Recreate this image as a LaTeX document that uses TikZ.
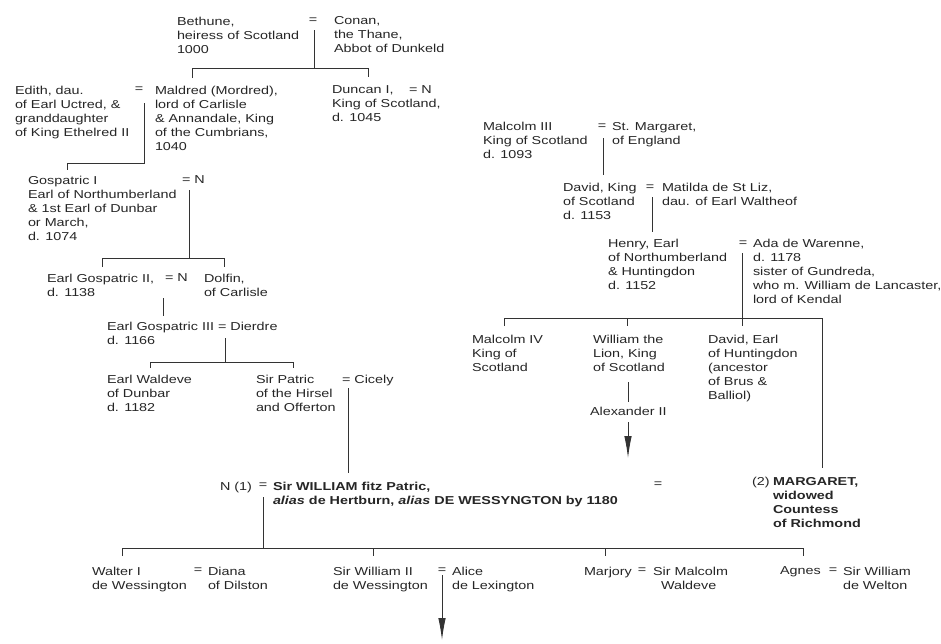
\documentclass[tikz,border=0pt]{standalone}
\usepackage{fontspec}
\setmainfont{Liberation Sans}[FakeStretch=1.25]
\usetikzlibrary{arrows.meta}
\begin{document}
\begin{tikzpicture}[x=1pt,y=-1pt,
  every node/.style={inner sep=0pt, outer sep=0pt, text=black!85},
  person/.style={anchor=north west, align=left, font=\fontsize{11.5}{14}\selectfont},
  eqs/.style={anchor=center, font=\fontsize{11.5}{14}\selectfont},
  line/.style={draw=black!80, line width=0.9pt},
  descarrow/.style={line, -{Latex[length=22pt,width=7.5pt]}}
]
\useasboundingbox (0,0) rectangle (941,643);

% --- generation 1
\node[person] (bethune) at (177,17) {Bethune,\\heiress of Scotland\\1000};
\node[eqs] (eq1) at (313,21) {=};
\node[person] (conan) at (334,16) {Conan,\\the Thane,\\Abbot of Dunkeld};
\coordinate (m1a) at (314,30);
\coordinate (m1b) at (314,68);
\coordinate (c1l) at (192,78);
\coordinate (c1r) at (368,68);
\coordinate (c1rd) at (368,77);
\draw[line] (m1a) -- (m1b);
\draw[line] (c1l) |- (c1r) -- (c1rd);

% --- generation 2
\node[person] (edith) at (15,86) {Edith, dau.\\of Earl Uctred, \&\\granddaughter\\of King Ethelred II};
\node[eqs] (eq2) at (139,90) {=};
\node[person] (maldred) at (155,86) {Maldred (Mordred),\\lord of Carlisle\\\& Annandale, King\\of the Cumbrians,\\1040};
\node[person] (duncan) at (332,86) {Duncan I,\\King of Scotland,\\d. 1045};
\node[person] (duncanw) at (409,86) {= N};
\coordinate (m2a) at (144,103);
\coordinate (m2b) at (144,163);
\coordinate (c2) at (67,170);
\draw[line] (m2a) -- (m2b) -| (c2);

% --- generation 3
\node[person] (gosp1) at (28,176) {Gospatric I\\Earl of Northumberland\\\& 1st Earl of Dunbar\\or March,\\d. 1074};
\node[person] (gosp1w) at (182,176) {= N};
\coordinate (m3a) at (189,190);
\coordinate (m3b) at (189,258);
\coordinate (c3l) at (102,267);
\coordinate (c3r) at (224,258);
\coordinate (c3rd) at (224,267);
\draw[line] (m3a) -- (m3b);
\draw[line] (c3l) |- (c3r) -- (c3rd);

% --- generation 4
\node[person] (gosp2) at (47,274) {Earl Gospatric II,\\d. 1138};
\node[person] (gosp2w) at (165,274) {= N};
\node[person] (dolfin) at (204,274) {Dolfin,\\of Carlisle};
\coordinate (m4a) at (163,298);
\coordinate (m4b) at (163,316);
\draw[line] (m4a) -- (m4b);

% --- generation 5
\node[person] (gosp3) at (107,322) {Earl Gospatric III\\d. 1166};
\node[person] (dierdre) at (218,322) {= Dierdre};
\coordinate (m5a) at (225,338);
\coordinate (m5b) at (225,362);
\coordinate (c5l) at (150,368);
\coordinate (c5r) at (293,362);
\coordinate (c5rd) at (293,368);
\draw[line] (m5a) -- (m5b);
\draw[line] (c5l) |- (c5r) -- (c5rd);

% --- generation 6
\node[person] (waldeve) at (107,375) {Earl Waldeve\\of Dunbar\\d. 1182};
\node[person] (patric) at (256,375) {Sir Patric\\of the Hirsel\\and Offerton};
\node[person] (cicely) at (342,375) {= Cicely};
\coordinate (m6a) at (348,388);
\coordinate (m6b) at (348,473);
\draw[line] (m6a) -- (m6b);

% --- Scottish royal line
\node[person] (malc3) at (483,122) {Malcolm III\\King of Scotland\\d. 1093};
\node[eqs] (eq7) at (602,127) {=};
\node[person] (stmarg) at (612,122) {St. Margaret,\\of England};
\coordinate (m7a) at (603,138);
\coordinate (m7b) at (603,175);
\draw[line] (m7a) -- (m7b);

\node[person] (david) at (563,183) {David, King\\of Scotland\\d. 1153};
\node[eqs] (eq8) at (650,188) {=};
\node[person] (matilda) at (662,183) {Matilda de St Liz,\\dau. of Earl Waltheof};
\coordinate (m8a) at (652,197);
\coordinate (m8b) at (652,232);
\draw[line] (m8a) -- (m8b);

\node[person] (henry) at (608,239) {Henry, Earl\\of Northumberland\\\& Huntingdon\\d. 1152};
\node[eqs] (eq9) at (743,244) {=};
\node[person] (ada) at (753,239) {Ada de Warenne,\\d. 1178\\sister of Gundreda,\\who m. William de Lancaster,\\lord of Kendal};
\coordinate (m9a) at (742,253);
\coordinate (m9c) at (742,326);
\coordinate (c9l) at (504,326);
\coordinate (c9m) at (627,318);
\coordinate (c9md) at (627,326);
\coordinate (c9r) at (822,318);
\coordinate (c9rd) at (822,468);
\draw[line] (m9a) -- (m9c);
\draw[line] (c9l) |- (c9r) -- (c9rd);
\draw[line] (c9m) -- (c9md);

\node[person] (malc4) at (472,335) {Malcolm IV\\King of\\Scotland};
\node[person] (wlion) at (593,335) {William the\\Lion, King\\of Scotland};
\node[person] (davidh) at (708,335) {David, Earl\\of Huntingdon\\(ancestor\\of Brus \&\\Balliol)};
\coordinate (wl1) at (628,382);
\coordinate (wl2) at (628,402);
\draw[line] (wl1) -- (wl2);
\node[person] (alex) at (590,407) {Alexander II};
\coordinate (al1) at (628,422);
\coordinate (al2) at (628,458);
\draw[descarrow] (al1) -- (al2);

% --- Sir William fitz Patric
\node[person] (n1) at (220,482) {N (1)};
\node[eqs] (eq10) at (263,486) {=};
\node[person] (william) at (273,482) {\bfseries Sir WILLIAM fitz Patric,\\\bfseries\itshape alias\upshape{} de Hertburn, \itshape alias\upshape{} DE WESSYNGTON by 1180};
\node[eqs] (eq11) at (658,485) {=};
\node[person] (two) at (752,477) {(2)};
\node[person, font=\fontsize{11.5}{14}\selectfont\bfseries] (margaret) at (773,477) {MARGARET,\\widowed\\Countess\\of Richmond};
\coordinate (m10a) at (263,497);
\coordinate (m10b) at (263,548);
\coordinate (k1) at (122,556);
\coordinate (k2) at (373,548);
\coordinate (k2d) at (373,556);
\coordinate (k3) at (605,548);
\coordinate (k3d) at (605,556);
\coordinate (k4) at (803,548);
\coordinate (k4d) at (803,556);
\draw[line] (m10a) -- (m10b);
\draw[line] (k1) |- (k4) -- (k4d);
\draw[line] (k2) -- (k2d);
\draw[line] (k3) -- (k3d);

% --- children
\node[person] (walter) at (92,567) {Walter I\\de Wessington};
\node[eqs] (eq12) at (198,571) {=};
\node[person] (diana) at (208,567) {Diana\\of Dilston};
\node[person] (will2) at (333,567) {Sir William II\\de Wessington};
\node[eqs] (eq13) at (442,571) {=};
\node[person] (alice) at (452,567) {Alice\\de Lexington};
\coordinate (w2a) at (442,575);
\coordinate (w2b) at (442,640);
\draw[descarrow] (w2a) -- (w2b);
\node[person] (marjory) at (584,567) {Marjory};
\node[eqs] (eq14) at (642,571) {=};
\node[person] (malcolmw) at (653,567) {Sir Malcolm\\\hspace*{8pt}Waldeve};
\node[person] (agnes) at (780,567) {Agnes};
\node[eqs] (eq15) at (833,571) {=};
\node[person] (welton) at (843,567) {Sir William\\de Welton};
\end{tikzpicture}
\end{document}
